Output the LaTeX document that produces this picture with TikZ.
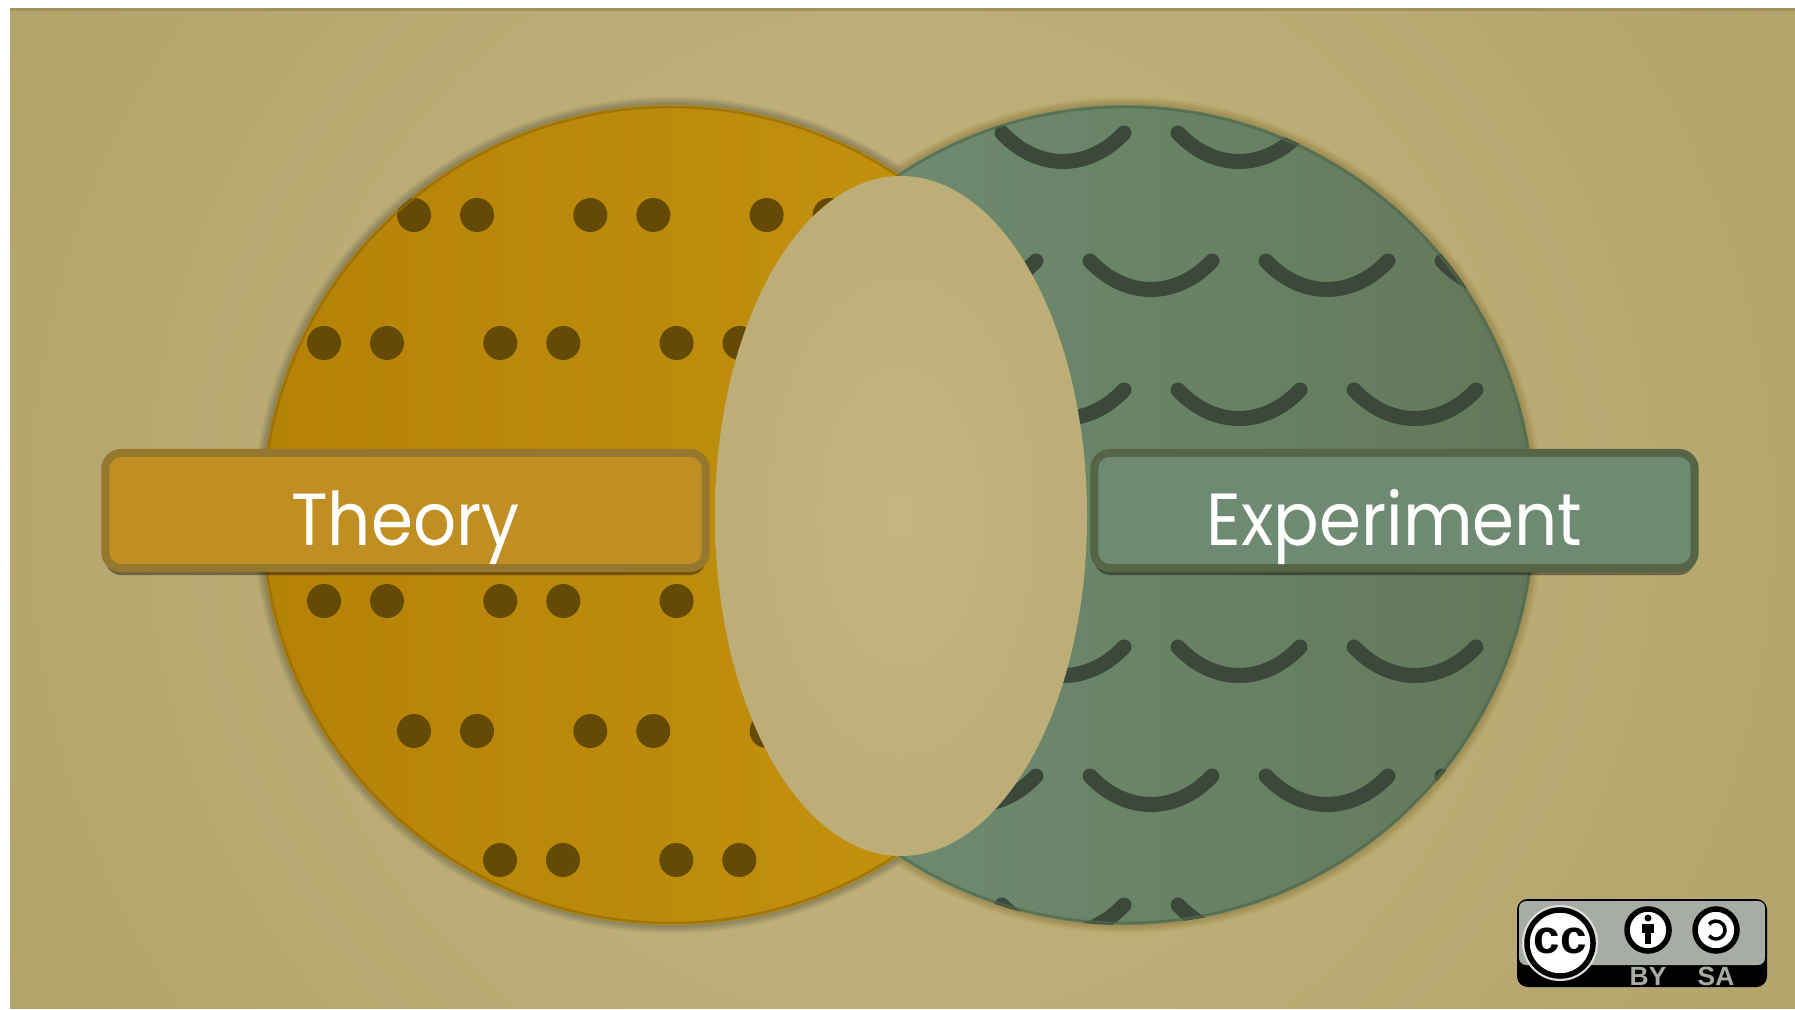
\documentclass[tikz,border=0pt]{standalone}
\usepackage{fontspec}
\setmainfont{Poppins}
\newfontfamily\LabelFont[FakeStretch=0.915]{Poppins}
\newfontfamily\BadgeFont{Liberation Sans}
\usepackage{xcolor}
\usetikzlibrary{shadows}
\definecolor{PageLight}{HTML}{C6B582}
\definecolor{PageDark}{HTML}{B2A369}
\definecolor{TheoryLeft}{HTML}{B58208}
\definecolor{TheoryRight}{HTML}{C6950E}
\definecolor{TheoryRim}{HTML}{85805A}
\definecolor{TheoryEdge}{HTML}{946C06}
\definecolor{TheoryDot}{HTML}{654A06}
\definecolor{TheoryFill}{HTML}{C08E22}
\definecolor{TheoryLine}{HTML}{95782E}
\definecolor{ExperimentLeft}{HTML}{708F76}
\definecolor{ExperimentRight}{HTML}{637859}
\definecolor{ExperimentRim}{HTML}{A08C50}
\definecolor{ExperimentEdge}{HTML}{50694C}
\definecolor{ExperimentArc}{HTML}{3B483A}
\definecolor{ExperimentFill}{HTML}{6F8A72}
\definecolor{ExperimentLine}{HTML}{566545}
\definecolor{BadgeGray}{HTML}{A7ACA5}
\definecolor{BadgeGlow}{HTML}{DDE0DC}
\tikzset{
  label box/.style={rounded corners=4.5pt,line width=0.08cm,minimum width=6.00cm,minimum height=1.15cm,
    text=white,text height=0.70cm,text depth=0cm,font=\LabelFont\fontsize{21}{24}\selectfont,
    drop shadow={shadow xshift=0cm,shadow yshift=-0.07cm,opacity=0.4,fill=black}},
  practice dot/.style={fill=TheoryDot},
  practice arc/.style={draw=ExperimentArc,line width=0.15cm,line cap=round},
  badge icon/.style={draw=black,fill=white,line width=0.055cm},
  badge tag/.style={text=BadgeGray,font=\BadgeFont\bfseries\fontsize{7.5}{9}\selectfont}
}
\begin{document}
\begin{tikzpicture}[x=0.01cm,y=-0.01cm]
  % one unit is one pixel of the 1795 x 1010 frame
  \path[use as bounding box] (0,0) rectangle (1795,1010);

  \def\theoryx{671}
  \def\experimentx{1125}
  \def\circley{515}
  \def\circler{410}

  \begin{scope}
    \clip (10,9) rectangle (1795,1008);
    \shade[inner color=PageLight,outer color=PageDark] (-179,-565) rectangle (1981,1595);
  \end{scope}
  \draw[PageDark!90!black,line width=0.03cm] (10,10) -- (1795,10);

  % soft rims round the two discs
  \foreach \w/\o in {16/0.2,12/0.3,8/0.4,4/0.55}{
    \draw[ExperimentRim,opacity=\o,line width=\w*0.01cm] (\experimentx,\circley) circle[radius=\circler];
    \draw[TheoryRim,opacity=\o,line width=\w*0.01cm] (\theoryx,\circley) circle[radius=\circler];
  }
  \shade[left color=ExperimentLeft,right color=ExperimentRight]
    (\experimentx,\circley) circle[radius=\circler];
  \shade[left color=TheoryLeft,right color=TheoryRight]
    (\theoryx,\circley) circle[radius=\circler];

  \newcommand{\dotrow}[3]{%
    \foreach \k in {0,...,#3}{
      \fill[practice dot] ({#1+176.3*\k},#2) circle[radius=17];
      \fill[practice dot] ({#1+63+176.3*\k},#2) circle[radius=17];
    }%
  }
  \begin{scope}
    \clip (\theoryx,\circley) circle[radius=\circler];
    \dotrow{414}{215}{3}
    \dotrow{324}{343}{3}
    \dotrow{324}{601}{3}
    \dotrow{414}{731}{3}
    \dotrow{500}{860}{1}
  \end{scope}

  \newcommand{\arcrow}[2]{%
    \foreach \k in {0,...,3}{
      \draw[practice arc] ({#1+176*\k},#2) .. controls ({#1+176*\k+36},{#2+38}) and ({#1+176*\k+86},{#2+38}) .. ({#1+176*\k+122},#2);
    }%
  }
  \begin{scope}
    \clip (\experimentx,\circley) circle[radius=\circler];
    \arcrow{1002}{133}
    \arcrow{914}{261}
    \arcrow{826}{390}
    \arcrow{826}{647}
    \arcrow{914}{776}
    \arcrow{826}{905}
  \end{scope}
  \draw[TheoryEdge,opacity=0.7,line width=0.025cm] (\theoryx,\circley) circle[radius=408];
  \draw[ExperimentEdge,opacity=0.7,line width=0.025cm] (\experimentx,\circley) circle[radius=408];

  % the shared part, same tone as the page
  \begin{scope}
    \clip (901,516) ellipse[x radius=186,y radius=340];
    \shade[inner color=PageLight,outer color=PageDark!70!PageLight] (601,-28) rectangle (1201,1060);
  \end{scope}

  \node[label box,fill=TheoryFill,draw=TheoryLine] (theory) at (405.5,510.5) {Theory};
  \node[label box,fill=ExperimentFill,draw=ExperimentLine] (experiment) at (1394.5,510.5) {Experiment};

  % licence badge
  \fill[black,rounded corners=3pt] (1517,899) rectangle (1767,987);
  \fill[BadgeGray,rounded corners=2pt] (1519,901) rectangle (1765,965);
  \fill[BadgeGlow] (1560,943) circle[radius=38];
  \node[badge icon,circle,minimum size=0.66cm,inner sep=0pt] (cc) at (1560,943) {};
  \node[font=\BadgeFont\bfseries\fontsize{13.5}{15}\selectfont,inner sep=0pt] (cctext) at (1560,941) {cc};
  \node[badge icon,circle,minimum size=0.42cm,inner sep=0pt] (by) at (1648,930) {};
  \fill[black] (1648,918) circle[radius=3.5];
  \fill[black] (1642,924) rectangle (1654,933);
  \fill[black] (1645,933) rectangle (1651,944);
  \node[badge icon,circle,minimum size=0.42cm,inner sep=0pt] (sa) at (1716,930) {};
  \draw[black,line width=0.035cm] (1716,930) ++(140:9) arc[start angle=140,end angle=-140,radius=9];
  \node[badge tag,inner sep=0pt] (bytag) at (1648,976) {BY};
  \node[badge tag,inner sep=0pt] (satag) at (1716,976) {SA};
\end{tikzpicture}
\end{document}
